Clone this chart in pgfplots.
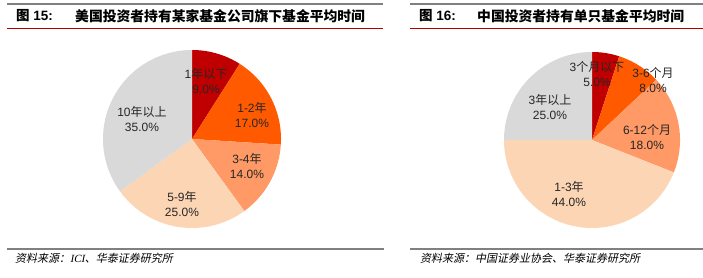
\documentclass[border=0pt]{standalone}
\usepackage{fontspec}
\usepackage{pgfplots}
\pgfplotsset{compat=1.18}
\setmainfont{Liberation Sans}
\newfontfamily\cjk{Noto Sans CJK SC}
\newfontfamily\cjkit[FakeSlant=0.2]{Noto Sans CJK SC}
\newfontfamily\serifit[FakeSlant=0.2]{Liberation Serif}
\definecolor{c1}{HTML}{C00000}
\definecolor{c2}{HTML}{FF5A00}
\definecolor{c3}{HTML}{FF9966}
\definecolor{c4}{HTML}{FCD5B5}
\definecolor{c5}{HTML}{D9D9D9}
\definecolor{linegray}{HTML}{808080}
\definecolor{linered}{HTML}{B00000}
\definecolor{txt}{HTML}{262626}
\newcommand\pieslice[2]{%
  \pgfmathsetmacro\ea{90-3.6*\cum}%
  \pgfmathsetmacro\sa{90-3.6*(\cum+#1)}%
  \pgfmathsetmacro\newcum{\cum+#1}%
  \global\let\cum\newcum
  \edef\tmp{\noexpand\addplot[fill=#2,draw=none,domain=\sa:\ea,samples=90,variable=\noexpand\t] ({cos(\noexpand\t)},{sin(\noexpand\t)}) -- (axis cs:0,0) -- cycle;}%
  \tmp}
\pgfplotsset{pie/.style={hide axis, enlargelimits=false, xmin=-1,xmax=1,ymin=-1,ymax=1, clip=false, anchor=center}}
\tikzset{lab/.style={align=center, font=\fontsize{12bp}{14.5bp}\selectfont, text=txt, inner sep=0pt}}
\begin{document}
\begin{tikzpicture}[x=1bp,y=1bp]
\useasboundingbox (0,0) rectangle (703,277);
% header / footer lines
\draw[linegray, line width=1.5bp] (7,273) -- (383,273);
\draw[linegray, line width=1.5bp] (410,273) -- (703,273);
\draw[linered, line width=1.3bp] (7,248.5) -- (383,248.5);
\draw[linered, line width=1.3bp] (410,248.5) -- (703,248.5);
\draw[linegray, line width=2bp] (7,28.5) -- (384,28.5);
\draw[linegray, line width=2bp] (410,28.5) -- (703,28.5);
% titles
\node[anchor=west, inner sep=0pt, font=\fontsize{13.5bp}{14bp}\selectfont\bfseries] at (16,261) {{\cjk 图} 15:};
\node[anchor=west, inner sep=0pt, font=\fontsize{13.8bp}{14bp}\selectfont\bfseries] at (75,261) {\cjk 美国投资者持有某家基金公司旗下基金平均时间};
\node[anchor=west, inner sep=0pt, font=\fontsize{13.5bp}{14bp}\selectfont\bfseries] at (419,261) {{\cjk 图} 16:};
\node[anchor=west, inner sep=0pt, font=\fontsize{13.8bp}{14bp}\selectfont\bfseries] at (477,261) {\cjk 中国投资者持有单只基金平均时间};
% sources
\node[anchor=west, inner sep=0pt, font=\fontsize{11bp}{12bp}\selectfont] at (15,19) {\cjkit 资料来源：{\serifit ICI}、华泰证券研究所};
\node[anchor=west, inner sep=0pt, font=\fontsize{11bp}{12bp}\selectfont] at (420,19) {\cjkit 资料来源：中国证券业协会、华泰证券研究所};
% left pie
\gdef\cum{0}
\begin{axis}[pie, x=89bp, y=89bp, at={(192bp,138bp)}]
\pieslice{9}{c1}
\pieslice{17}{c2}
\pieslice{14}{c3}
\pieslice{25}{c4}
\pieslice{35}{c5}
\end{axis}
% right pie
\gdef\cum{0}
\begin{axis}[pie, x=88bp, y=88bp, at={(592bp,137bp)}]
\pieslice{5}{c1}
\pieslice{8}{c2}
\pieslice{18}{c3}
\pieslice{44}{c4}
\pieslice{25}{c5}
\end{axis}
% labels left
\node[lab] at (206,196) {1{\cjk 年以下}\\9.0\%};
\node[lab] at (252,162) {1-2{\cjk 年}\\17.0\%};
\node[lab] at (247,111) {3-4{\cjk 年}\\14.0\%};
\node[lab] at (182,73) {5-9{\cjk 年}\\25.0\%};
\node[lab] at (142,158) {10{\cjk 年以上}\\35.0\%};
% labels right
\node[lab] at (597,203) {3{\cjk 个月以下}\\5.0\%};
\node[lab] at (653,197) {3-6{\cjk 个月}\\8.0\%};
\node[lab] at (647,140) {6-12{\cjk 个月}\\18.0\%};
\node[lab] at (569,83) {1-3{\cjk 年}\\44.0\%};
\node[lab] at (550,170) {3{\cjk 年以上}\\25.0\%};
\end{tikzpicture}
\end{document}
